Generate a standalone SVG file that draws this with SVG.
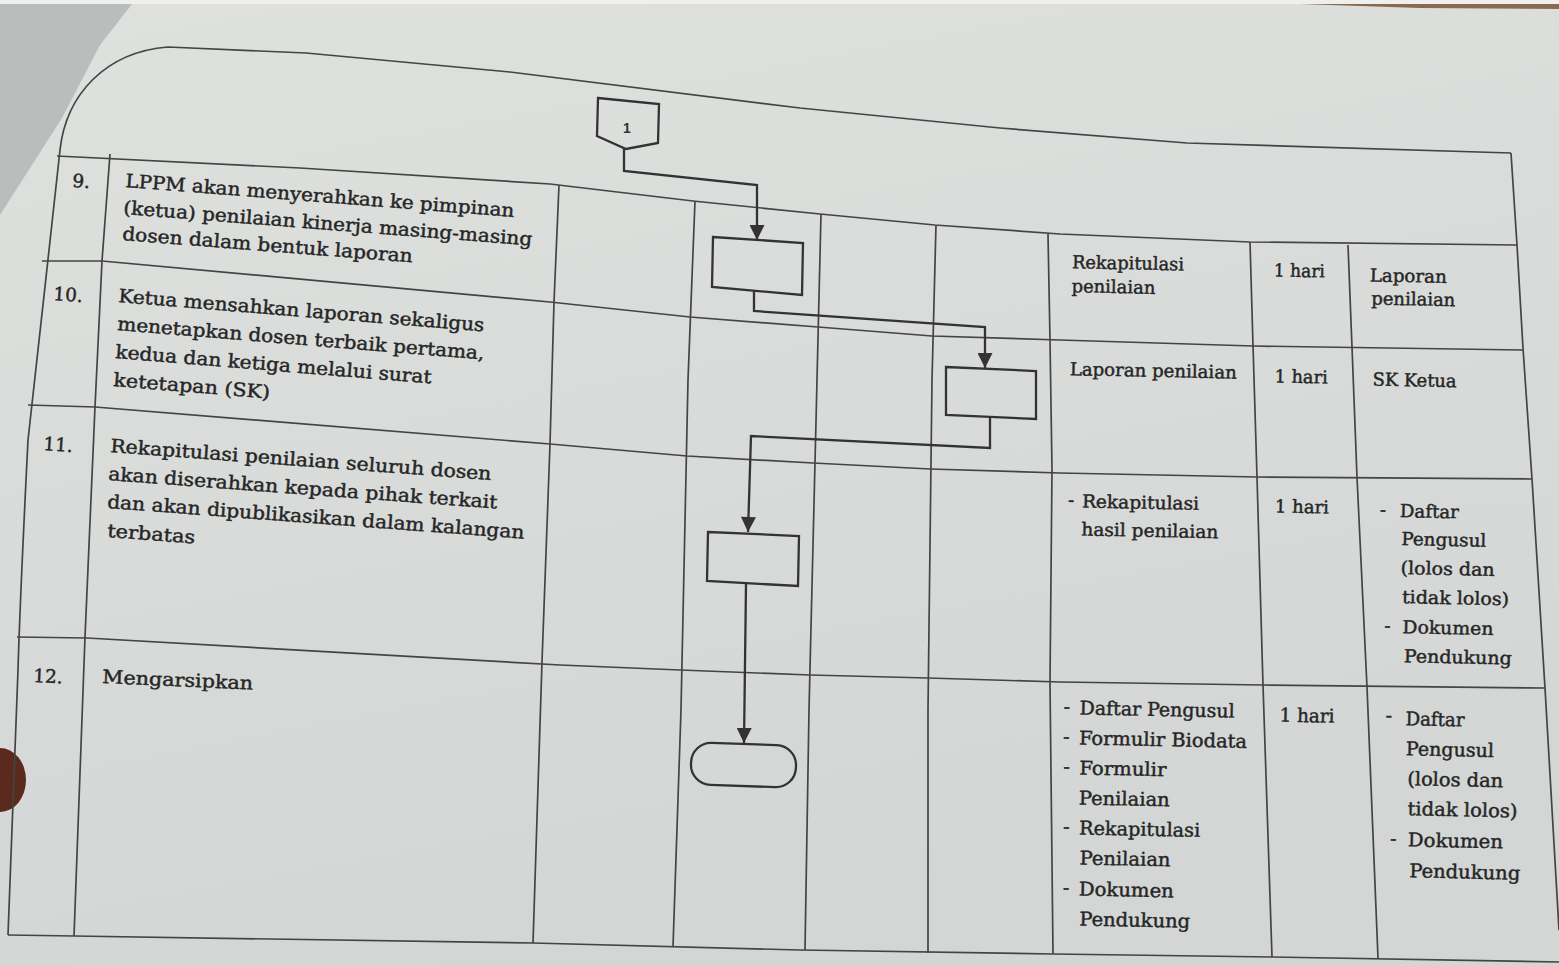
<svg xmlns="http://www.w3.org/2000/svg" width="1559" height="966" viewBox="0 0 1559 966">
<defs>
<linearGradient id="pg" x1="0" y1="0" x2="0.3" y2="1">
<stop offset="0" stop-color="#dfe1df"/>
<stop offset="1" stop-color="#d3d6d4"/>
</linearGradient>
<marker id="ah" viewBox="0 0 10 10" refX="10" refY="5" markerWidth="16" markerHeight="15" markerUnits="userSpaceOnUse" orient="auto">
<path d="M0,0 L10,5 L0,10 z" fill="#333"/>
</marker>
<style>
.grid{fill:none;stroke:#444;stroke-width:1.7;stroke-linejoin:round}
.node{fill:none;stroke:#333;stroke-width:2.3;stroke-linejoin:miter}
.flow{fill:none;stroke:#333;stroke-width:2.3}
.t,.r,.r2{font-family:"DejaVu Serif","Liberation Serif",serif;fill:#262626;stroke:#262626;stroke-width:0.45}
.t{font-size:18.5px}
.r{font-size:18px}
.r2{font-size:19px}
</style>
</defs>

<!-- background -->
<rect x="0" y="0" width="1559" height="966" fill="url(#pg)"/>
<polygon points="0,0 132,4 100,45 62,118 0,215" fill="#b9bdbc"/>
<rect x="0" y="0" width="1559" height="4" fill="#efefee"/>
<path d="M1300,4 L1559,4 L1559,9 L1420,8 Z" fill="#8a6a4e"/>
<ellipse cx="0" cy="780" rx="26" ry="32" fill="#5a2b1c"/>

<!-- table grid -->
<g id="table">
<path class="grid" d="M1511,153 L1187,143 L1000,128 L800,108 L510,72 L306,53 L168,47 C105,52 66,95 60,150 C52,230 35,370 28,440 C24,520 20,600 18,670 L8,935"/>
<path class="grid" d="M1511,153 L1517,245 L1523,348 L1532,479 L1545,688 L1559,930"/>
<polyline class="grid" points="57,156 300,168 550,184 693,201 820,214 935,225 1060,234 1250,242 1517,245"/>
<polyline class="grid" points="42,261 102,261 550,302 690,317 818,327 932,336 1060,340 1253,346 1523,350"/>
<polyline class="grid" points="28,405 95,407 550,444 687,456 813,463 930,469 1060,473 1257,477 1532,479"/>
<polyline class="grid" points="17,637 87,638 560,665 680,670 810,675 928,678 1060,682 1263,685 1545,688"/>
<polyline class="grid" points="8,935 74,936 533,943 800,950 1053,954 1272,957 1559,962"/>
<polyline class="grid" points="110,154 102,261 95,407 85,637 74,936"/>
<polyline class="grid" points="559,185 554,302 550,444 542,662 533,943"/>
<polyline class="grid" points="695,201 688,380 681,710 673,947"/>
<polyline class="grid" points="821,214 817,380 809,710 805,950"/>
<polyline class="grid" points="936,225 932,380 928,710 928,953"/>
<polyline class="grid" points="1048,234 1050,340 1052,470 1050,683 1053,954"/>
<polyline class="grid" points="1250,242 1253,345 1257,477 1263,685 1272,957"/>
<polyline class="grid" points="1348,245 1352,347 1357,477 1367,687 1378,958"/>
</g>

<!-- flowchart nodes -->
<g id="connector-1">
<polygon class="node" points="598,98 659,104 658,143 626,149 597,136"/>
<text x="627" y="133" text-anchor="middle" font-family="Liberation Sans, Arial, sans-serif" font-size="14" font-weight="bold" fill="#333">1</text>
</g>
<g id="process-9">
<polygon class="node" points="713,237 803,243 802,295 712,287"/>
</g>
<g id="process-10">
<polygon class="node" points="946,367 1036,371 1036,419 946,415"/>
</g>
<g id="process-11">
<polygon class="node" points="708,532 799,536 798,586 707,581"/>
</g>
<g id="terminator-12">
<rect class="node" x="691" y="744" width="105" height="42" rx="20" ry="20" transform="rotate(2 743 765)"/>
</g>

<!-- connectors -->
<g id="connectors">
<path class="flow" d="M624,149 L624,171 L757,185 L757,240" marker-end="url(#ah)"/>
<path class="flow" d="M754,291 L754,311 L985,327 L985,368" marker-end="url(#ah)"/>
<path class="flow" d="M990,418 L990,448 L751,436 L748,532" marker-end="url(#ah)"/>
<path class="flow" d="M746,584 L744,743" marker-end="url(#ah)"/>
</g>

<!-- row numbers -->
<g id="numbers">
<text class="t" x="72" y="187" transform="rotate(4 72 187)">9.</text>
<text class="t" x="53" y="300" transform="rotate(4 53 300)">10.</text>
<text class="t" x="43" y="450" transform="rotate(4 43 450)">11.</text>
<text class="t" x="33" y="682" transform="rotate(3 33 682)" font-size="19.5">12.</text>
</g>

<!-- activity texts -->
<g id="activities">
<text class="t" x="125" y="187" transform="rotate(4.4 125 187)" textLength="390" lengthAdjust="spacingAndGlyphs">LPPM akan menyerahkan ke pimpinan</text>
<text class="t" x="123" y="214" transform="rotate(4.4 123 214)" textLength="410" lengthAdjust="spacingAndGlyphs">(ketua) penilaian kinerja masing-masing</text>
<text class="t" x="122" y="240" transform="rotate(4.4 122 240)" textLength="291" lengthAdjust="spacingAndGlyphs">dosen dalam bentuk laporan</text>

<text class="t" x="118" y="302" transform="rotate(4.6 118 302)" textLength="367" lengthAdjust="spacingAndGlyphs">Ketua mensahkan laporan sekaligus</text>
<text class="t" x="117" y="330" transform="rotate(4.6 117 330)" textLength="368" lengthAdjust="spacingAndGlyphs">menetapkan dosen terbaik pertama,</text>
<text class="t" x="115" y="358" transform="rotate(4.6 115 358)" textLength="317" lengthAdjust="spacingAndGlyphs">kedua dan ketiga melalui surat</text>
<text class="t" x="113" y="386" transform="rotate(4.6 113 386)" textLength="157" lengthAdjust="spacingAndGlyphs">ketetapan (SK)</text>

<text class="t" x="110" y="452" transform="rotate(4.2 110 452)" textLength="382" lengthAdjust="spacingAndGlyphs">Rekapitulasi penilaian seluruh dosen</text>
<text class="t" x="108" y="480" transform="rotate(4.2 108 480)" textLength="390" lengthAdjust="spacingAndGlyphs">akan diserahkan kepada pihak terkait</text>
<text class="t" x="107" y="508" transform="rotate(4.2 107 508)" textLength="418" lengthAdjust="spacingAndGlyphs">dan akan dipublikasikan dalam kalangan</text>
<text class="t" x="107" y="537" transform="rotate(4.2 107 537)" textLength="88" lengthAdjust="spacingAndGlyphs">terbatas</text>

<text class="t" x="102" y="683" transform="rotate(2.5 102 683)" textLength="151" lengthAdjust="spacingAndGlyphs" font-size="19.5">Mengarsipkan</text>
</g>

<!-- right columns texts -->
<g id="details" transform="rotate(1.2 1300 600)">
<text class="r" x="1065" y="273" textLength="112" lengthAdjust="spacingAndGlyphs">Rekapitulasi</text>
<text class="r" x="1065" y="297" textLength="84" lengthAdjust="spacingAndGlyphs">penilaian</text>
<text class="r" x="1267" y="277" textLength="51" lengthAdjust="spacingAndGlyphs">1 hari</text>
<text class="r" x="1363" y="280" textLength="77" lengthAdjust="spacingAndGlyphs">Laporan</text>
<text class="r" x="1365" y="303" textLength="84" lengthAdjust="spacingAndGlyphs">penilaian</text>

<text class="r" x="1065" y="380" textLength="167" lengthAdjust="spacingAndGlyphs">Laporan penilaian</text>
<text class="r" x="1270" y="383" textLength="53" lengthAdjust="spacingAndGlyphs">1 hari</text>
<text class="r" x="1368" y="384" textLength="84" lengthAdjust="spacingAndGlyphs">SK Ketua</text>

<text class="r" x="1066" y="511">-</text>
<text class="r" x="1080" y="512" textLength="117" lengthAdjust="spacingAndGlyphs">Rekapitulasi</text>
<text class="r" x="1080" y="540" textLength="137" lengthAdjust="spacingAndGlyphs">hasil penilaian</text>
<text class="r" x="1273" y="513" textLength="54" lengthAdjust="spacingAndGlyphs">1 hari</text>
<text class="r" x="1378" y="514">-</text>
<text class="r" x="1398" y="515" textLength="59" lengthAdjust="spacingAndGlyphs">Daftar</text>
<text class="r" x="1400" y="543" textLength="85" lengthAdjust="spacingAndGlyphs">Pengusul</text>
<text class="r" x="1400" y="572" textLength="94" lengthAdjust="spacingAndGlyphs">(lolos dan</text>
<text class="r" x="1402" y="601" textLength="107" lengthAdjust="spacingAndGlyphs">tidak lolos)</text>
<text class="r" x="1385" y="630">-</text>
<text class="r" x="1403" y="631" textLength="91" lengthAdjust="spacingAndGlyphs">Dokumen</text>
<text class="r" x="1405" y="660" textLength="108" lengthAdjust="spacingAndGlyphs">Pendukung</text>

<text class="r2" x="1066" y="718">-</text>
<text class="r2" x="1082" y="719" textLength="155" lengthAdjust="spacingAndGlyphs">Daftar Pengusul</text>
<text class="r2" x="1066" y="748">-</text>
<text class="r2" x="1082" y="749" textLength="168" lengthAdjust="spacingAndGlyphs">Formulir Biodata</text>
<text class="r2" x="1067" y="778">-</text>
<text class="r2" x="1083" y="779" textLength="87" lengthAdjust="spacingAndGlyphs">Formulir</text>
<text class="r2" x="1083" y="809" textLength="91" lengthAdjust="spacingAndGlyphs">Penilaian</text>
<text class="r2" x="1068" y="838">-</text>
<text class="r2" x="1084" y="839" textLength="121" lengthAdjust="spacingAndGlyphs">Rekapitulasi</text>
<text class="r2" x="1085" y="869" textLength="91" lengthAdjust="spacingAndGlyphs">Penilaian</text>
<text class="r2" x="1069" y="899">-</text>
<text class="r2" x="1085" y="900" textLength="95" lengthAdjust="spacingAndGlyphs">Dokumen</text>
<text class="r2" x="1086" y="930" textLength="111" lengthAdjust="spacingAndGlyphs">Pendukung</text>
<text class="r2" x="1282" y="722" textLength="55" lengthAdjust="spacingAndGlyphs">1 hari</text>
<text class="r2" x="1388" y="720">-</text>
<text class="r2" x="1408" y="723" textLength="59" lengthAdjust="spacingAndGlyphs">Daftar</text>
<text class="r2" x="1409" y="753" textLength="88" lengthAdjust="spacingAndGlyphs">Pengusul</text>
<text class="r2" x="1411" y="783" textLength="96" lengthAdjust="spacingAndGlyphs">(lolos dan</text>
<text class="r2" x="1412" y="813" textLength="110" lengthAdjust="spacingAndGlyphs">tidak lolos)</text>
<text class="r2" x="1395" y="843">-</text>
<text class="r2" x="1413" y="844" textLength="95" lengthAdjust="spacingAndGlyphs">Dokumen</text>
<text class="r2" x="1415" y="875" textLength="111" lengthAdjust="spacingAndGlyphs">Pendukung</text>
</g>
</svg>
